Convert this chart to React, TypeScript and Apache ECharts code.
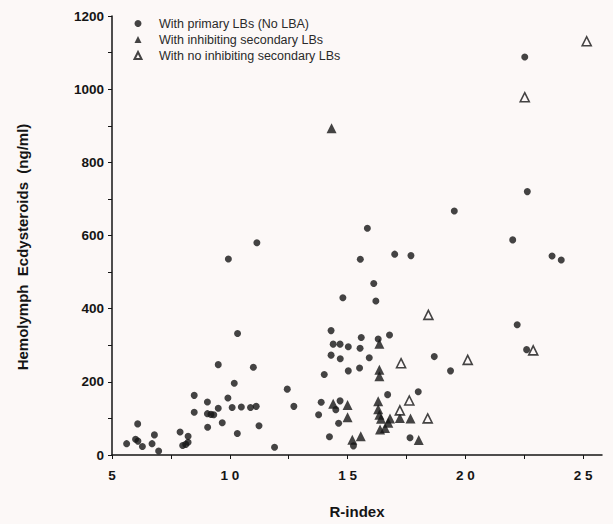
import React, { useEffect, useRef } from "react";
import * as echarts from "echarts";

// R-index vs hemolymph ecdysteroids (ng/ml)
const primaryLBs: [number, number][] = [
  [5.62, 31], [6.0, 43], [6.1, 38], [6.09, 85], [6.29, 23], [6.7, 31], [6.8, 55], [6.98, 11],
  [7.89, 63], [8.0, 26], [8.13, 29], [8.23, 35], [8.23, 51],
  [8.49, 163], [8.49, 117], [9.05, 145], [9.05, 113], [9.2, 111], [9.32, 110], [9.06, 76],
  [9.51, 128], [9.51, 247], [9.68, 88], [9.92, 156], [9.94, 536], [10.1, 130], [10.19, 196],
  [10.33, 332], [10.32, 59], [10.49, 131], [10.88, 130], [11.0, 240], [11.12, 133], [11.15, 580],
  [11.24, 80], [11.9, 21], [12.44, 180], [12.72, 133],
  [13.77, 110], [13.88, 144], [14.01, 220], [14.23, 50], [14.3, 340], [14.3, 273], [14.39, 303],
  [14.68, 303], [14.69, 263], [14.5, 124], [14.62, 87], [14.68, 148], [14.8, 430], [15.03, 296],
  [15.03, 230], [15.25, 25], [15.51, 238], [15.53, 292], [15.54, 535], [15.58, 321], [15.84, 620],
  [15.92, 266], [16.11, 469], [16.2, 421], [16.3, 317], [16.7, 165], [16.78, 328], [17.0, 549],
  [17.65, 47], [17.69, 545], [18.0, 173], [18.68, 269], [19.37, 230], [19.53, 667],
  [22.01, 588], [22.2, 356], [22.52, 1088], [22.6, 288], [22.63, 720], [23.68, 544], [24.07, 533],
];
const inhibitingSecondary: [number, number][] = [
  [14.32, 893], [14.39, 140], [15.0, 137], [15.0, 103], [15.2, 42], [15.56, 51],
  [16.35, 304], [16.35, 233], [16.35, 215], [16.3, 147], [16.3, 125], [16.35, 110],
  [16.42, 99], [16.8, 100], [16.73, 88], [16.59, 74], [16.38, 70], [17.22, 101],
  [17.67, 100], [18.02, 41],
];
const noInhibitingSecondary: [number, number][] = [
  [17.27, 251], [17.62, 149], [17.22, 122], [18.4, 100], [18.43, 383], [20.1, 260],
  [22.88, 286], [22.52, 978], [25.15, 1131],
];
const seriesNames = [
  "With primary LBs (No LBA)",
  "With inhibiting secondary LBs",
  "With no inhibiting secondary LBs",
];
const xTicks = [5, 7.5, 10, 12.5, 15, 17.5, 20, 22.5, 25];
const xLabels = [5, 10, 15, 20, 25];
const yLabels = [0, 200, 400, 600, 800, 1000, 1200];
const yTitle = "Hemolymph  Ecdysteroids  (ng/ml)";
const xTitle = "R-index";

const BG = "#fcf8f7";
const INK = "#151515";
const FONT = "'Liberation Sans', Arial, Helvetica, sans-serif";

export default function App() {
  const ref = useRef<HTMLDivElement>(null);
  useEffect(() => {
    if (!ref.current) return;
    const chart = echarts.init(ref.current, undefined, { renderer: "svg" });
    chart.setOption({
      animation: false,
      backgroundColor: BG,
      textStyle: { fontFamily: FONT },
      grid: { left: 112, right: 11, top: 16, bottom: 68 },
      legend: {
        orient: "vertical",
        left: 133.5,
        top: 17,
        itemWidth: 7,
        itemHeight: 7,
        itemGap: 3,
        padding: 0,
        textStyle: {
          fontSize: 12.5,
          color: "#2a2a2a",
          fontFamily: FONT,
          padding: [0, 0, 0, 12.5],
        },
        data: seriesNames,
      },
      graphic: [
        {
          type: "text",
          x: 22,
          y: 247,
          rotation: Math.PI / 2,
          style: {
            text: yTitle,
            align: "center",
            verticalAlign: "middle",
            fontSize: 15,
            fontWeight: "bold",
            fill: INK,
            fontFamily: FONT,
          },
        },
      ],
      xAxis: {
        type: "value",
        min: 5,
        max: 25.8,
        interval: 2.5,
        splitLine: { show: false },
        axisLine: { lineStyle: { color: INK, width: 1.5 } },
        axisTick: { customValues: xTicks, length: 4, lineStyle: { color: INK, width: 1 } },
        axisLabel: {
          customValues: xLabels,
          margin: 13,
          fontSize: 13.5,
          fontWeight: "bold",
          color: INK,
          fontFamily: FONT,
          formatter: (v: number) => String(v).split("").join(" "),
        },
        name: xTitle,
        nameLocation: "middle",
        nameGap: 49,
        nameTextStyle: { fontSize: 15, fontWeight: "bold", color: INK, fontFamily: FONT },
      },
      yAxis: {
        type: "value",
        min: 0,
        max: 1200,
        interval: 100,
        splitLine: { show: false },
        axisLine: { show: true, lineStyle: { color: INK, width: 1.5 } },
        axisTick: { show: true, length: 4, lineStyle: { color: INK, width: 1 } },
        axisLabel: {
          customValues: yLabels,
          margin: 8,
          fontSize: 13.5,
          fontWeight: "bold",
          color: INK,
          fontFamily: FONT,
          formatter: (v: number) => String(v),
        },
      },
      series: [
        {
          name: seriesNames[0],
          type: "scatter",
          symbol: "circle",
          symbolSize: 7,
          itemStyle: { color: INK },
          data: primaryLBs,
        },
        {
          name: seriesNames[1],
          type: "scatter",
          symbol: "triangle",
          symbolSize: 10,
          itemStyle: { color: INK },
          data: inhibitingSecondary,
        },
        {
          name: seriesNames[2],
          type: "scatter",
          symbol: "triangle",
          symbolSize: 9,
          itemStyle: { color: BG, borderColor: INK, borderWidth: 1.6 },
          data: noInhibitingSecondary,
        },
      ],
    });
    return () => chart.dispose();
  }, []);
  return (
    <div
      ref={ref}
      style={{ position: "fixed", left: 0, top: 0, width: 613, height: 524 }}
    />
  );
}
